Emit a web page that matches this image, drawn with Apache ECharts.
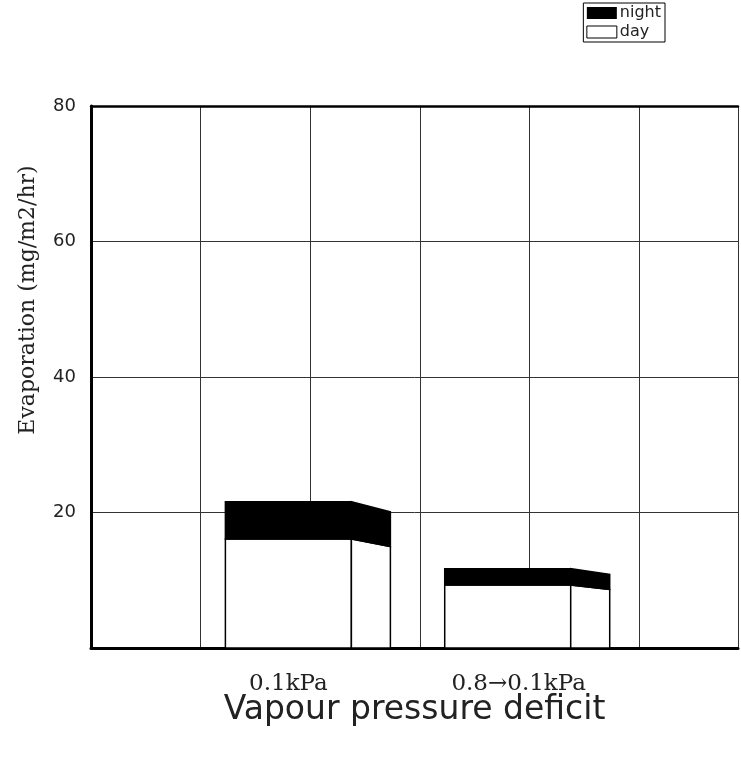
<!DOCTYPE html>
<html>
<head>
<meta charset="utf-8">
<script src="https://cdn.jsdelivr.net/npm/echarts@6/dist/echarts.min.js"></script>
<style>
  html, body { margin: 0; padding: 0; background: #fff; }
  #main { width: 741px; height: 763px; }
</style>
</head>
<body>
<div id="main"></div>
<script>
// data
var categories = ['0.1kPa', '0.8\u21920.1kPa'];
var catPos = [1.8, 3.8];          // where each bar sits on the hidden x scale
var labelPos = [1.8, 3.9];        // where each category label sits
var dayVals = [16.1, 9.3];
var nightVals = [5.5, 2.4];
var yTicks = [20, 40, 60, 80];

var myChart = echarts.init(document.getElementById('main'));

var dayData = [];
var nightData = [];
for (var i = 0; i < dayVals.length; i++) {
    dayData.push([catPos[i], 0, dayVals[i]]);
    nightData.push([catPos[i], dayVals[i], dayVals[i] + nightVals[i]]);
}

// front face + slanted side face of each bar segment
function drawBox(params, api) {
    var x = api.value(0);
    var lo = api.coord([x, api.value(1)]);
    var hi = api.coord([x, api.value(2)]);
    var base = api.coord([0, 0])[1];
    var w = 126, dx = 39, k = 0.93;
    var xl = lo[0] - w / 2, xr = lo[0] + w / 2;
    var sideLo = base - (base - lo[1]) * k;
    var sideHi = base - (base - hi[1]) * k;
    var st = api.style();
    return {
        type: 'group',
        children: [{
            type: 'rect',
            shape: { x: xl, y: hi[1], width: w, height: lo[1] - hi[1] },
            style: { fill: st.fill, stroke: '#000', lineWidth: 1.5 }
        }, {
            type: 'polygon',
            shape: { points: [[xr, lo[1]], [xr, hi[1]], [xr + dx, sideHi], [xr + dx, sideLo]] },
            style: { fill: st.fill, stroke: '#000', lineWidth: 1.5 }
        }]
    };
}

var option = {
    backgroundColor: '#fff',
    animation: false,
    legend: {
        orient: 'vertical',
        right: 76,
        top: 3,
        padding: [2, 4, 2, 3],
        itemGap: 3,
        itemWidth: 30,
        itemHeight: 12,
        borderColor: '#000',
        borderWidth: 1,
        textStyle: { fontFamily: 'DejaVu Sans', fontSize: 16, color: '#222', padding: [0, 0, 0, -2] },
        data: [
            { name: 'night', icon: 'rect', itemStyle: { color: '#000' } },
            { name: 'day', icon: 'rect', itemStyle: { color: '#fff', borderColor: '#000', borderWidth: 1 } }
        ]
    },
    grid: { left: 91, right: 0, top: 106, bottom: 115 },
    xAxis: [{
        type: 'value',
        min: 0,
        max: 5.9,
        interval: 1,
        position: 'bottom',
        name: 'Vapour pressure deficit',
        nameLocation: 'middle',
        nameGap: 46,
        nameTextStyle: { fontFamily: 'DejaVu Sans', fontSize: 33, color: '#222' },
        axisLine: { show: true, lineStyle: { color: '#000', width: 3 } },
        axisTick: { show: false },
        axisLabel: { show: false },
        splitLine: { show: true, lineStyle: { color: '#333', width: 1 } }
    }, {
        type: 'value',
        min: 0,
        max: 5.9,
        interval: 1,
        position: 'top',
        axisLine: { show: true, lineStyle: { color: '#000', width: 2.5 } },
        axisTick: { show: false },
        axisLabel: { show: false },
        splitLine: { show: false }
    }, {
        type: 'value',
        min: 0,
        max: 5.9,
        interval: 0.1,
        position: 'bottom',
        axisLine: { show: false },
        axisTick: { show: false },
        splitLine: { show: false },
        axisLabel: {
            margin: 25,
            fontFamily: 'DejaVu Serif',
            fontSize: 23,
            color: '#222',
            formatter: function (v) {
                for (var j = 0; j < labelPos.length; j++) {
                    if (Math.abs(v - labelPos[j]) < 0.01) return categories[j];
                }
                return '';
            }
        }
    }],
    yAxis: {
        type: 'value',
        min: 0,
        max: 80,
        interval: 20,
        axisLine: { show: true, lineStyle: { color: '#000', width: 3 } },
        axisTick: { show: false },
        axisLabel: {
            margin: 15,
            fontFamily: 'DejaVu Sans',
            fontSize: 18,
            color: '#222',
            formatter: function (v) { return yTicks.indexOf(v) >= 0 ? String(v) : ''; }
        },
        splitLine: { show: true, lineStyle: { color: '#333', width: 1 } }
    },
    graphic: [{
        type: 'text',
        x: 28,
        y: 300,
        rotation: Math.PI / 2,
        style: {
            text: 'Evaporation (mg/m2/hr)',
            fontFamily: 'DejaVu Serif',
            fontSize: 22,
            fill: '#222',
            align: 'center',
            verticalAlign: 'middle'
        }
    }],
    series: [{
        name: 'day',
        type: 'custom',
        xAxisIndex: 0,
        renderItem: drawBox,
        itemStyle: { color: '#fff', borderColor: '#000' },
        data: dayData
    }, {
        name: 'night',
        type: 'custom',
        xAxisIndex: 0,
        renderItem: drawBox,
        itemStyle: { color: '#000' },
        data: nightData
    }]
};

myChart.setOption(option);
</script>
</body>
</html>
